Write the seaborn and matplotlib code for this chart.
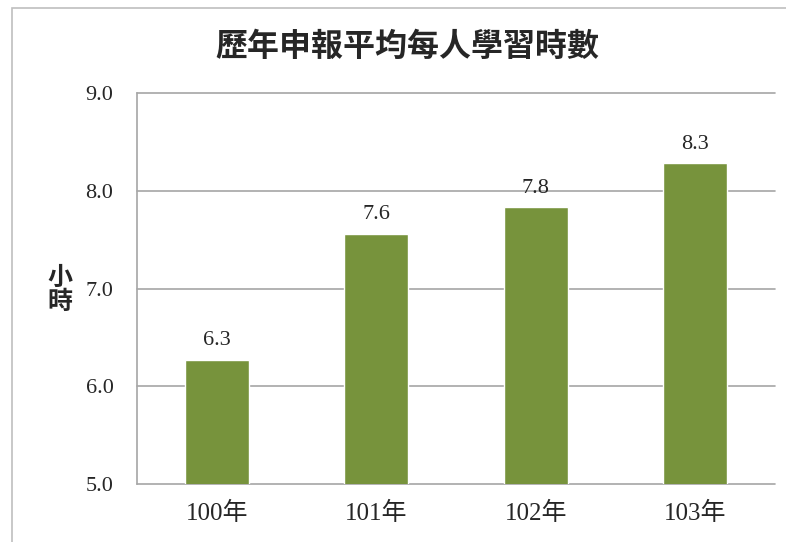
import matplotlib
matplotlib.use("Agg")
import matplotlib.pyplot as plt
import seaborn as sns
import pandas as pd
from matplotlib.patches import Rectangle

years = ["100年", "101年", "102年", "103年"]
hours = [6.27, 7.56, 7.83, 8.28]
value_labels = ["6.3", "7.6", "7.8", "8.3"]
yticks = [5.0, 6.0, 7.0, 8.0, 9.0]
title = "歷年申報平均每人學習時數"
ylabel = "小\n時"

sns.set_theme(style="white")
plt.rcParams['font.family'] = ['Liberation Serif', 'Noto Sans CJK TC']

df = pd.DataFrame({"year": years, "hours": hours})

fig = plt.figure(figsize=(7.86, 5.42), dpi=100)
fig.patch.set_facecolor("white")
# outer frame
fig.patches.append(Rectangle((12/786, -0.1), 1.2, 1.1 - 8/542, transform=fig.transFigure,
                             fill=False, edgecolor="#BFBFBF", linewidth=1.2))
ax = fig.add_axes([137/786, 1 - 484/542, 638/786, 391/542])

sns.barplot(data=df, x="year", y="hours", color="#77933C", saturation=1,
            width=0.4, ax=ax, zorder=3)

ax.set_ylim(5.0, 9.0)
ax.set_yticks(yticks)
ax.set_yticklabels([f"{t:.1f}" for t in yticks], fontsize=16, family=['Liberation Serif'])
ax.set_xticks(range(len(years)))
ax.set_xticklabels(years, fontsize=18, family=['Liberation Serif', 'Noto Sans CJK TC'])
ax.tick_params(axis='y', length=0, pad=17)
ax.tick_params(axis='x', length=0, pad=13)

for t in yticks:
    ax.axhline(t, color="#A6A6A6", linewidth=1.2, zorder=1, clip_on=False)

for s in ["top", "right", "bottom"]:
    ax.spines[s].set_visible(False)
ax.spines["left"].set_color("#A6A6A6")
ax.spines["left"].set_linewidth(1.2)

for i, (v, lab) in enumerate(zip(hours, value_labels)):
    ax.annotate(lab, xy=(i, v), xytext=(0, 7), textcoords="offset points",
                ha="center", va="bottom", fontsize=16, family=['Liberation Serif'])

ax.set_xlabel("")
ax.set_ylabel("")
fig.text(60/786, 1 - 290/542, ylabel, ha="center", va="center", fontsize=18,
         fontweight="bold", family=['Noto Sans CJK TC'], linespacing=1.0)
fig.text(407/786, 1 - 47/542, title, ha="center", va="center", fontsize=23,
         fontweight="bold", family=['Noto Sans CJK TC'])

fig.savefig("out.png", dpi=100)
